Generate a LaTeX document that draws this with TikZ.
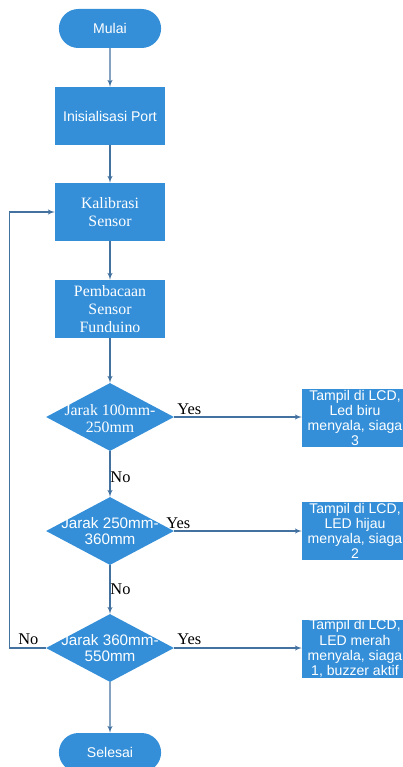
\documentclass[tikz,border=0pt]{standalone}
\usepackage{fontspec}
\setmainfont{Liberation Serif}
\setsansfont{Liberation Sans}
\usepackage{tikz}
\usetikzlibrary{arrows,shapes,positioning}
\definecolor{boxblue}{RGB}{52,143,216}
\definecolor{linegray}{RGB}{68,114,160}
\tikzstyle{line} = [draw=linegray, line width=1pt, -latex']
\tikzstyle{startstop} = [rounded rectangle, fill=boxblue, text=white, minimum width=3.3cm, minimum height=1.17cm, font=\sffamily\fontsize{12}{15}\selectfont]
\tikzstyle{procbox} = [rectangle, fill=boxblue, text=white, minimum width=3.3cm, minimum height=1.74cm, align=center]
\tikzstyle{decbox} = [diamond, fill=boxblue, minimum width=3.84cm, minimum height=2.04cm, inner sep=0pt]
\tikzstyle{dectext} = [text=white, align=center, inner sep=0pt]
\tikzstyle{outbox} = [rectangle, fill=boxblue, text=white, minimum width=3.18cm, minimum height=1.74cm, inner sep=0pt, align=center, font=\sffamily\fontsize{12}{13}\selectfont]
\tikzstyle{yesno} = [font=\fontsize{14}{14}\selectfont, inner sep=1pt, anchor=south west]

\begin{document}
\begin{tikzpicture}[x=0.03cm,y=-0.03cm]
		\useasboundingbox (0,0) rectangle (403,767);
		\clip (0,0) rectangle (403,767);
		
		\node[startstop] (mulai) at (110,28.5) {Mulai}; % start
		\node[procbox, font=\sffamily\fontsize{12}{15}\selectfont] (init) at (110,116) {Inisialisasi Port};
		\node[procbox, font=\fontsize{13.5}{15.7}\selectfont] (kalib) at (110,212) {Kalibrasi\\Sensor};
		\node[procbox, font=\fontsize{13.5}{15.7}\selectfont] (baca) at (110,309) {Pembacaan\\Sensor\\Funduino};
		
		\node[decbox] (jarak1) at (110,417) {}; % first check
		\node[dectext, font=\fontsize{13.5}{14.5}\selectfont] (jt1) at (110,419) {Jarak 100mm-\\250mm};
		\node[decbox] (jarak2) at (110,531) {}; % second check
		\node[dectext, font=\sffamily\fontsize{13}{13}\selectfont] (jt2) at (110,531) {Jarak 250mm-\\360mm};
		\node[decbox] (jarak3) at (110,648) {}; % third check
		\node[dectext, font=\sffamily\fontsize{13}{13.5}\selectfont] (jt3) at (110,648) {Jarak 360mm-\\550mm};
		
		\node[startstop] (selesai) at (110,752.5) {Selesai}; % end
		
		\node[outbox] (tampil1) at (355,418) {Tampil di LCD,\\Led biru\\menyala, siaga\\3};
		\node[outbox] (tampil2) at (355,531) {Tampil di LCD,\\LED hijau\\menyala, siaga\\2};
		\node[outbox] (tampil3) at (355,648.5) {Tampil di LCD,\\LED merah\\menyala, siaga\\1, buzzer aktif};
		
		\draw[line] (mulai) -- (init);
		\draw[line] (init) -- (kalib);
		\draw[line] (kalib) -- (baca);
		\draw[line] (baca) -- (jarak1);
		\draw[line] (jarak1) -- (jarak2);
		\draw[line] (jarak2) -- (jarak3);
		\draw[line] (jarak3) -- (selesai);
		\draw[line] (jarak1.east) -- (jarak1.east -| tampil1.west);
		\draw[line] (jarak2.east) -- (jarak2.east -| tampil2.west);
		\draw[line] (jarak3.east) -- (jarak3.east -| tampil3.west);
		\draw[line] (jarak3.west) -- ++(-36,0) |- (kalib.west); % back to calibration
		
		\node[yesno] (yes1) at (176,416) {Yes};
		\node[yesno] (yes2) at (165,530) {Yes};
		\node[yesno] (yes3) at (176,646) {Yes};
		\node[yesno] (no1) at (109,484) {No};
		\node[yesno] (no2) at (109,596) {No};
		\node[yesno] (no3) at (17,646) {No};
		
		\end{tikzpicture}
\end{document}
